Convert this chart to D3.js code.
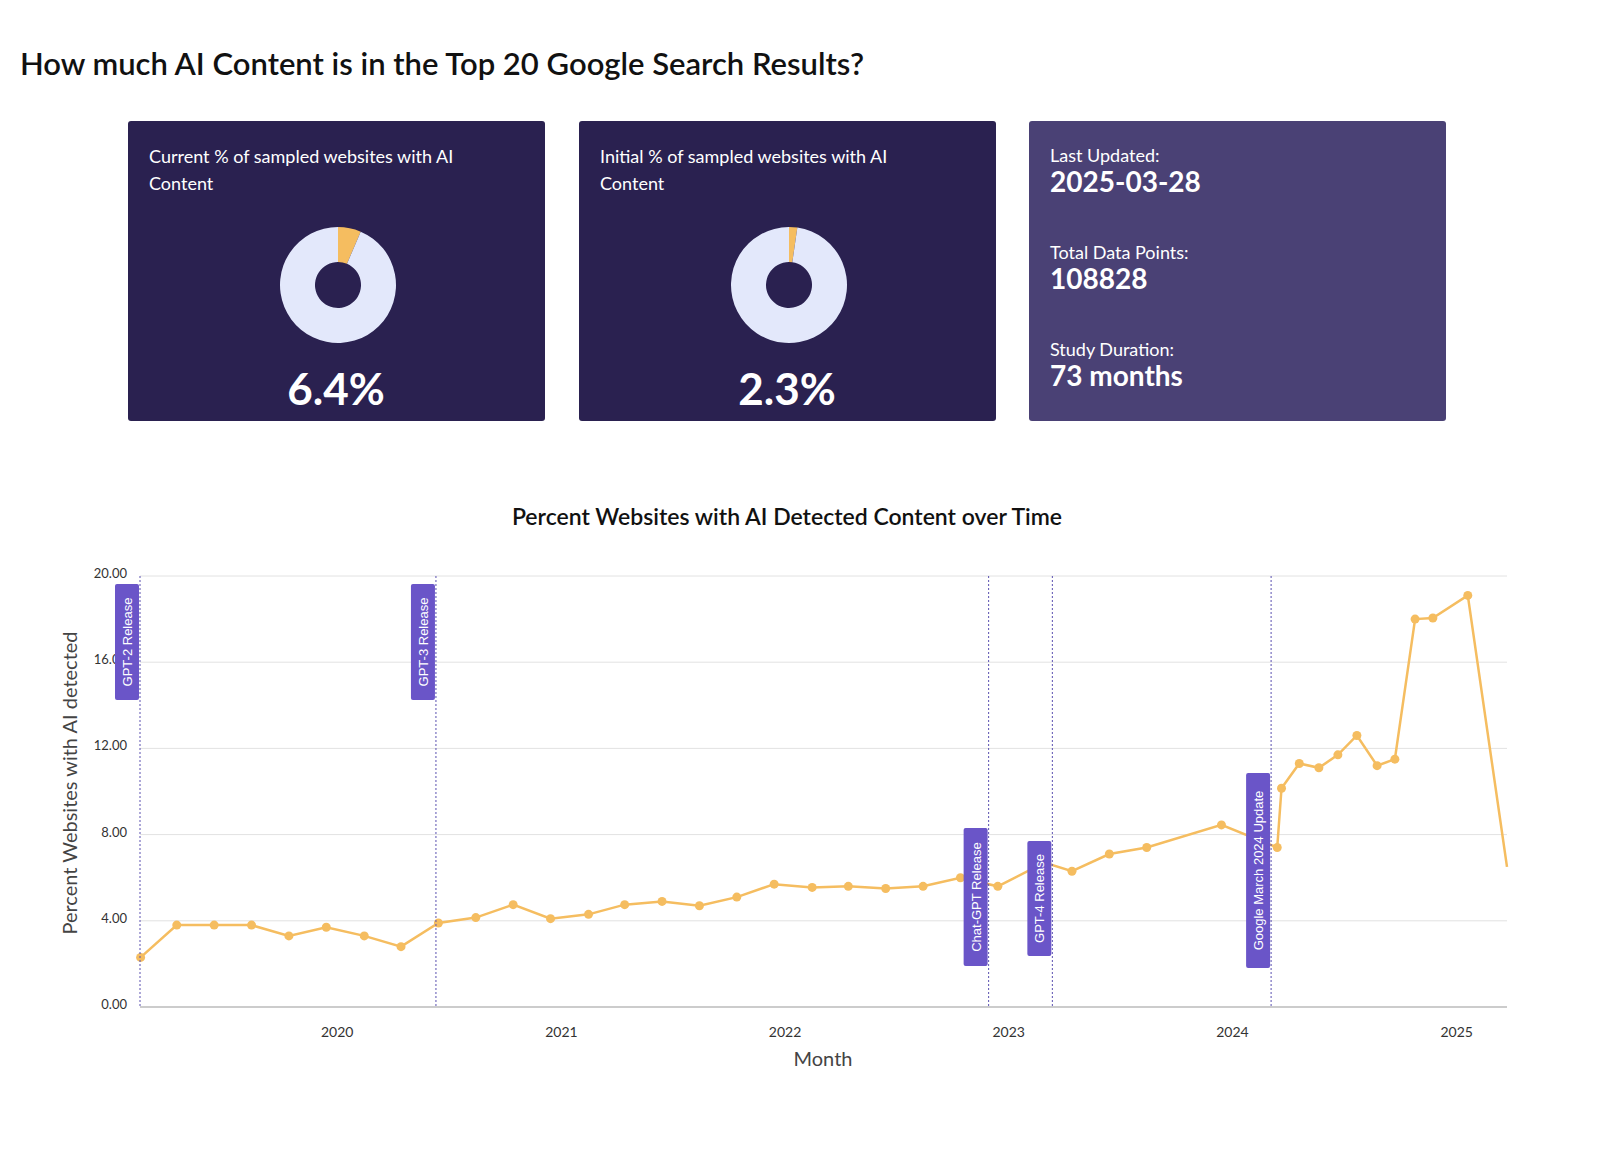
<!DOCTYPE html>
<html><head><meta charset="utf-8">
<script src="https://cdn.jsdelivr.net/npm/d3@7"></script>
<style>body{margin:0;background:#fff}</style>
</head><body>
<svg id="c" width="1600" height="1152"></svg>
<script>
// data
var dates = ["2019-02-15","2019-04-15","2019-06-15","2019-08-15","2019-10-15","2019-12-15",
  "2020-02-15","2020-04-15","2020-06-15","2020-08-15","2020-10-15","2020-12-15",
  "2021-02-15","2021-04-15","2021-06-15","2021-08-15","2021-10-15","2021-12-15",
  "2022-02-15","2022-04-15","2022-06-15","2022-08-15","2022-10-15","2022-12-15",
  "2023-03-01","2023-04-15","2023-06-15","2023-08-15","2023-12-15","2024-03-15",
  "2024-03-22","2024-04-20","2024-05-22","2024-06-22","2024-07-23","2024-08-25",
  "2024-09-23","2024-10-26","2024-11-24","2025-01-20","2025-03-25"];
var values = [2.3,3.8,3.8,3.8,3.3,3.7,3.3,2.8,3.9,4.15,4.75,4.1,4.3,4.75,4.9,4.7,5.1,5.7,
  5.55,5.6,5.5,5.6,6.0,5.6,6.7,6.3,7.1,7.4,8.45,7.4,10.15,11.3,11.1,11.7,12.6,11.2,11.5,
  18.0,18.05,19.1,6.5];
var eventNames = ["GPT-2 Release","GPT-3 Release","Chat-GPT Release","GPT-4 Release","Google March 2024 Update"];
var eventDates = ["2019-02-14","2020-06-11","2022-11-30","2023-03-14","2024-03-05"];
var yTicks = [0,4,8,12,16,20];
var xTickYears = [2020,2021,2022,2023,2024,2025];
var donutValues = [6.4, 2.3];
var donutTitles = ["Current % of sampled websites with AI", "Initial % of sampled websites with AI"];
var stats = [["Last Updated:","2025-03-28"],["Total Data Points:","108828"],["Study Duration:","73 months"]];

var font = "Lato, 'Open Sans', sans-serif";
var svg = d3.select("#c").style("font-family", font);
var parse = d3.timeParse("%Y-%m-%d");

svg.append("text").attr("x", 20).attr("y", 75).attr("font-size", 31).attr("font-weight", 600)
  .attr("fill", "#111").text("How much AI Content is in the Top 20 Google Search Results?");

// cards
var cardX = [128, 579, 1029];
donutValues.forEach(function (v, i) {
  var g = svg.append("g").attr("transform", "translate(" + cardX[i] + ",121)");
  g.append("rect").attr("width", 417).attr("height", 300).attr("rx", 3).attr("fill", "#2a2150");
  g.append("text").attr("x", 21).attr("y", 42).attr("fill", "#fff").attr("font-size", 18).text(donutTitles[i]);
  g.append("text").attr("x", 21).attr("y", 69).attr("fill", "#fff").attr("font-size", 18).text("Content");
  var arc = d3.arc().innerRadius(23).outerRadius(58);
  var pie = d3.pie().sort(null)([v, 100 - v]);
  g.append("g").attr("transform", "translate(210,164)").selectAll("path").data(pie).join("path")
    .attr("d", arc).attr("fill", function (d, j) { return j === 0 ? "#f5bd60" : "#e3e8fb"; });
  g.append("text").attr("x", 208).attr("y", 284).attr("text-anchor", "middle").attr("fill", "#fff")
    .attr("font-size", 44).attr("font-weight", 700).text(v + "%");
});
var sg = svg.append("g").attr("transform", "translate(1029,121)");
sg.append("rect").attr("width", 417).attr("height", 300).attr("rx", 3).attr("fill", "#4a4175");
stats.forEach(function (s, i) {
  sg.append("text").attr("x", 21).attr("y", 41 + i * 97).attr("fill", "#fff").attr("font-size", 18).text(s[0]);
  sg.append("text").attr("x", 21).attr("y", 71 + i * 97).attr("fill", "#fff").attr("font-size", 28)
    .attr("font-weight", 700).text(s[1]);
});

// line chart
var x = d3.scaleTime().domain([parse("2019-02-14"), parse("2025-03-25")]).range([140, 1507]);
var y = d3.scaleLinear().domain([0, 20]).range([1007, 576]);

svg.append("text").attr("x", 787).attr("y", 525).attr("text-anchor", "middle").attr("font-size", 23)
  .attr("font-weight", 600).attr("fill", "#111").text("Percent Websites with AI Detected Content over Time");

svg.append("g").selectAll("line").data(yTicks).join("line")
  .attr("x1", 140).attr("x2", 1507).attr("y1", y).attr("y2", y)
  .attr("stroke", function (d) { return d === 0 ? "#999" : "#e2e2e2"; });
svg.append("g").selectAll("text").data(yTicks).join("text")
  .attr("x", 127).attr("y", function (d) { return y(d) + 2; }).attr("text-anchor", "end")
  .attr("font-size", 13).attr("fill", "#333").text(function (d) { return d.toFixed(2); });

var xAxis = d3.axisBottom(x).tickValues(xTickYears.map(function (yr) { return new Date(yr, 0, 1); }))
  .tickFormat(d3.timeFormat("%Y")).tickSize(0).tickPadding(20);
var ax = svg.append("g").attr("transform", "translate(0,1007)").call(xAxis);
ax.select(".domain").remove();
ax.selectAll("text").attr("font-size", 14).attr("fill", "#333").attr("font-family", font);

svg.append("text").attr("x", 823).attr("y", 1066).attr("text-anchor", "middle").attr("font-size", 20)
  .attr("fill", "#444").text("Month");
svg.append("text").attr("transform", "translate(77,783) rotate(-90)").attr("text-anchor", "middle")
  .attr("font-size", 20).attr("fill", "#444").text("Percent Websites with AI detected");

var pts = dates.map(function (d, i) { return [parse(d), values[i]]; });
var line = d3.line().x(function (d) { return x(d[0]); }).y(function (d) { return y(d[1]); });
svg.append("path").datum(pts).attr("d", line).attr("fill", "none").attr("stroke", "#f5bd60").attr("stroke-width", 2.5);
svg.append("g").selectAll("circle").data(pts.slice(0, -1)).join("circle")
  .attr("cx", function (d) { return x(d[0]); }).attr("cy", function (d) { return y(d[1]); })
  .attr("r", 4.5).attr("fill", "#f5bd60");

// events
var labelTop = [584, 584, 828, 841, 773];
var labelH = [116, 116, 138, 115, 195];
eventNames.forEach(function (name, i) {
  var ex = x(parse(eventDates[i]));
  svg.append("line").attr("x1", ex).attr("x2", ex).attr("y1", 576).attr("y2", 1007)
    .attr("stroke", "#5a50b0").attr("stroke-dasharray", "2,2").attr("stroke-width", 1);
  svg.append("rect").attr("x", ex - 25).attr("y", labelTop[i]).attr("width", 24).attr("height", labelH[i])
    .attr("rx", 2).attr("fill", "#6a55c8");
  svg.append("text").attr("transform", "translate(" + (ex - 8) + "," + (labelTop[i] + labelH[i] / 2) + ") rotate(-90)")
    .attr("text-anchor", "middle").attr("font-size", 13).attr("fill", "#fff")
    .attr("font-family", "'Liberation Sans', Arial, sans-serif").text(name);
});
</script>
</body></html>
